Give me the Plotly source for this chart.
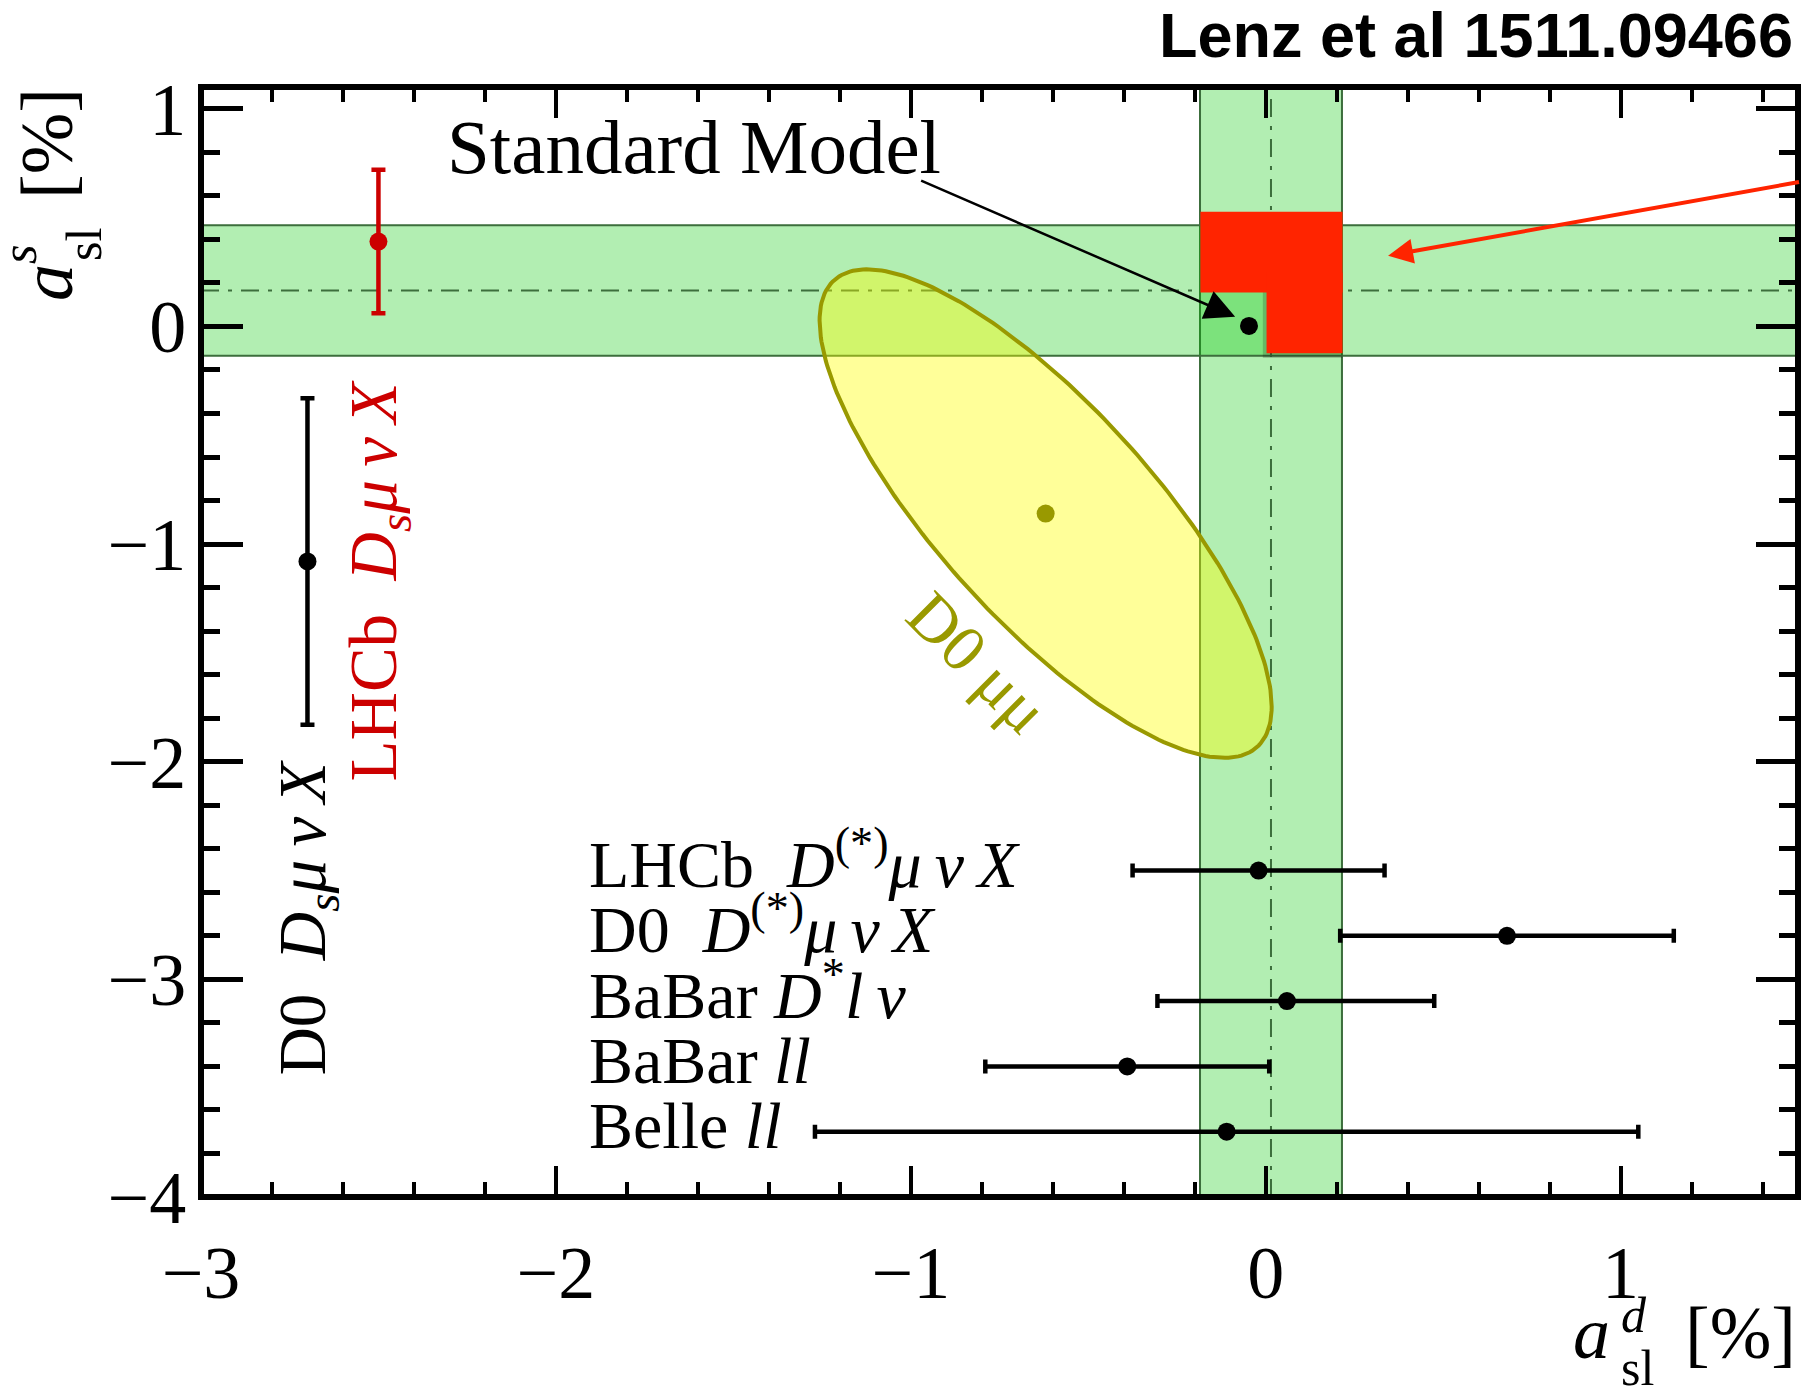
import numpy as np
import plotly.graph_objects as go

# ---------------- data (values in %) ----------------
X_RANGE = [-3.0, 1.5]
Y_RANGE = [-4.0, 1.1]

# world averages shown as bands: [central, half-width]
avg_asld = [0.015, 0.20]
avg_asls = [0.165, 0.30]

# Standard Model prediction (a_sl^d, a_sl^s)
sm_point = [-0.047, 0.002]

TS = "\u2009"  # thin space

# a_sl^d measurements (horizontal error bars)
d_labels = [
    "LHCb  <i>D</i><sup>(*)</sup><i>μ" + TS + "ν" + TS + "X</i>",
    "D0  <i>D</i><sup>(*)</sup><i>μ" + TS + "ν" + TS + "X</i>",
    "BaBar <i>D</i><sup>*</sup><i>l" + TS + "ν</i>",
    "BaBar <i>ll</i>",
    "Belle <i>ll</i>",
]
d_central = [-0.02, 0.68, 0.06, -0.39, -0.11]
d_err_hi = [0.355, 0.47, 0.415, 0.40, 1.16]
d_err_lo = [0.355, 0.47, 0.365, 0.40, 1.16]
d_row = [-2.5, -2.8, -3.1, -3.4, -3.7]

# a_sl^s measurements (vertical error bars)
s_labels = [
    "D0  <i>D</i><sub><i>s</i></sub><i>μ" + TS + "ν" + TS + "X</i>",
    "LHCb  <i>D</i><sub><i>s</i></sub><i>μ" + TS + "ν" + TS + "X</i>",
]
s_col = [-2.7, -2.5]
s_central = [-1.08, 0.39]
s_err = [0.75, 0.33]
s_label_y = [-2.714, -1.165]
s_colors = ["black", "#cc0000"]

# D0 dimuon measurement: (a_sl^d, a_sl^s), errors, correlation
mumu_central = [-0.62, -0.86]
mumu_err = [0.42, 0.74]
mumu_rho = -0.79
mumu_dchi2 = 2.30  # 68% CL contour, 2 dof

# ---------------- layout geometry ----------------
W, H = 1801, 1387
ML, MR, MT, MB = 201, 3, 87, 190
PW, PH = W - ML - MR, H - MT - MB

def px(xp):
    return (xp - ML) / PW

def py(yp):
    return (H - MB - yp) / PH

SERIF = "Liberation Serif"
SANS = "Liberation Sans"
GREEN_FILL = "rgba(0,200,0,0.30)"
GREEN_LINE = "rgb(60,110,60)"
RED = "rgb(255,36,0)"
OLIVE = "rgb(153,153,0)"

fig = go.Figure()

shapes = []
# vertical band (a_sl^d average)
shapes.append(dict(type="rect", xref="x", yref="paper",
                   x0=avg_asld[0] - avg_asld[1], x1=avg_asld[0] + avg_asld[1], y0=0, y1=1,
                   fillcolor=GREEN_FILL, line=dict(color=GREEN_LINE, width=2), layer="below"))
# horizontal band (a_sl^s average)
shapes.append(dict(type="rect", xref="paper", yref="y",
                   x0=0, x1=1, y0=avg_asls[0] - avg_asls[1], y1=avg_asls[0] + avg_asls[1],
                   fillcolor=GREEN_FILL, line=dict(color=GREEN_LINE, width=2), layer="below"))
# central dash-dot lines
shapes.append(dict(type="line", xref="x", yref="paper", x0=avg_asld[0], x1=avg_asld[0], y0=0, y1=1,
                   line=dict(color=GREEN_LINE, width=2, dash="18px,9px,4px,9px"), layer="below"))
shapes.append(dict(type="line", xref="paper", yref="y", x0=0, x1=1, y0=avg_asls[0], y1=avg_asls[0],
                   line=dict(color=GREEN_LINE, width=2, dash="18px,9px,4px,9px"), layer="below"))
# red highlighted region (L shape), with a soft shadow
shapes.append(dict(type="rect", xref="x", yref="y", x0=-0.008, x1=0.2166, y0=-0.145, y1=0.248,
                   fillcolor="rgba(0,0,0,0.18)", line=dict(width=0), layer="below"))
shapes.append(dict(type="rect", xref="x", yref="y", x0=-0.184, x1=0.2166, y0=0.156, y1=0.527,
                   fillcolor=RED, line=dict(width=0), layer="below"))
shapes.append(dict(type="rect", xref="x", yref="y", x0=0.0025, x1=0.2166, y0=-0.123, y1=0.248,
                   fillcolor=RED, line=dict(width=0), layer="below"))
# frame, centred on the plot-area edges
shapes.append(dict(type="rect", xref="paper", yref="paper", x0=0, x1=1, y0=0, y1=1,
                   fillcolor="rgba(0,0,0,0)", line=dict(color="black", width=6), layer="above"))

# D0 dimuon 68% CL ellipse
t = np.linspace(0, 2 * np.pi, 241)
k = np.sqrt(mumu_dchi2)
ex = mumu_central[0] + k * mumu_err[0] * np.cos(t)
ey = mumu_central[1] + k * mumu_err[1] * (mumu_rho * np.cos(t) + np.sqrt(1 - mumu_rho ** 2) * np.sin(t))
fig.add_trace(go.Scatter(x=ex, y=ey, mode="lines", fill="toself",
                         fillcolor="rgba(255,255,0,0.40)", line=dict(color=OLIVE, width=4),
                         hoverinfo="skip", showlegend=False))
fig.add_trace(go.Scatter(x=[mumu_central[0]], y=[mumu_central[1]], mode="markers",
                         marker=dict(color=OLIVE, size=18), showlegend=False))

# a_sl^d measurements
fig.add_trace(go.Scatter(x=d_central, y=d_row, mode="markers",
                         marker=dict(color="black", size=18),
                         error_x=dict(type="data", symmetric=False, array=d_err_hi, arrayminus=d_err_lo,
                                      color="black", thickness=4.5, width=7),
                         showlegend=False))
# a_sl^s measurements
for i in range(len(s_col)):
    fig.add_trace(go.Scatter(x=[s_col[i]], y=[s_central[i]], mode="markers",
                             marker=dict(color=s_colors[i], size=18),
                             error_y=dict(type="data", array=[s_err[i]], color=s_colors[i],
                                          thickness=4.5, width=7),
                             showlegend=False))
# SM point
fig.add_trace(go.Scatter(x=[sm_point[0]], y=[sm_point[1]], mode="markers",
                         marker=dict(color="black", size=18), showlegend=False))

ann = []
# title
ann.append(dict(text="<b>Lenz et al 1511.09466</b>", xref="paper", yref="paper",
                x=px(1795), y=py(35), xanchor="right", yanchor="middle", showarrow=False,
                font=dict(family=SANS, size=63, color="black")))
# Standard Model label + arrow
ann.append(dict(text="Standard Model", xref="x", yref="y", x=(445 - 1265.8) / 355.0,
                y=(326.6 - 147.3) / 217.6, xanchor="left", yanchor="middle", showarrow=False,
                font=dict(family=SERIF, size=77, color="black")))
ann.append(dict(text=" ", xref="x", yref="y", x=-0.086, y=0.044, ax=-316, ay=-137,
                showarrow=True, arrowhead=2, arrowwidth=2.5, arrowsize=2.4, arrowcolor="black",
                font=dict(size=2)))
# red arrow from the right
ann.append(dict(text=" ", xref="x", yref="y", x=0.345, y=0.325, ax=425, ay=-74,
                showarrow=True, arrowhead=2, arrowwidth=4, arrowsize=1.25, arrowcolor=RED,
                font=dict(size=2)))
# D0 mumu label
ann.append(dict(text="D0 μμ", xref="x", yref="y", x=-0.81, y=-1.545, textangle=45,
                xanchor="center", yanchor="middle", showarrow=False,
                font=dict(family=SERIF, size=66, color=OLIVE)))
# a_sl^d labels
for lab, yr in zip(d_labels, d_row):
    ann.append(dict(text=lab, xref="x", yref="y", x=-1.912, y=yr - 0.15,
                    xanchor="left", yanchor="bottom", showarrow=False,
                    font=dict(family=SERIF, size=66, color="black")))
# a_sl^s labels (rotated)
for lab, xc, yl, c in zip(s_labels, s_col, s_label_y, s_colors):
    ann.append(dict(text=lab, xref="x", yref="y", x=xc, y=yl, textangle=-90,
                    xanchor="center", yanchor="middle", showarrow=False,
                    font=dict(family=SERIF, size=67, color=c)))

# x-axis title  a_sl^d [%]
TF = 74
SF = 50
ann += [
    dict(text="<i>a</i>", x=px(1591), y=py(1333), font=dict(family=SERIF, size=TF)),
    dict(text="<i>d</i>", x=px(1634), y=py(1315), font=dict(family=SERIF, size=SF)),
    dict(text="sl", x=px(1637), y=py(1368), font=dict(family=SERIF, size=SF)),
    dict(text="[%]", x=px(1740), y=py(1333), font=dict(family=SERIF, size=TF)),
]
# y-axis title  a_sl^s [%]
ann += [
    dict(text="<i>a</i>", x=px(47), y=py(283), textangle=-90, font=dict(family=SERIF, size=TF)),
    dict(text="<i>s</i>", x=px(19), y=py(255), textangle=-90, font=dict(family=SERIF, size=SF)),
    dict(text="sl", x=px(84), y=py(245), textangle=-90, font=dict(family=SERIF, size=SF)),
    dict(text="[%]", x=px(47), y=py(144), textangle=-90, font=dict(family=SERIF, size=TF)),
]
for a in ann[-8:]:
    a.update(xref="paper", yref="paper", xanchor="center", yanchor="middle", showarrow=False)
    a["font"]["color"] = "black"

axis_common = dict(ticks="inside", tickcolor="black", showline=True, linewidth=6,
                   linecolor="rgba(0,0,0,0)", mirror="ticks", showgrid=False, zeroline=False,
                   tickfont=dict(family=SERIF, size=74, color="black"))

fig.update_layout(
    width=W, height=H,
    margin=dict(l=ML, r=MR, t=MT, b=MB, autoexpand=False),
    paper_bgcolor="white", plot_bgcolor="white",
    showlegend=False,
    shapes=shapes,
    annotations=ann,
    xaxis=dict(range=X_RANGE, dtick=1, tick0=0, ticklen=31, tickwidth=4,
               ticklabelstandoff=6,
               minor=dict(dtick=0.2, tick0=0, ticks="inside", ticklen=15, tickwidth=4,
                          tickcolor="black", showgrid=False),
               **axis_common),
    yaxis=dict(range=Y_RANGE, dtick=1, tick0=0, ticklen=42, tickwidth=5,
               ticklabelstandoff=-6,
               minor=dict(dtick=0.2, tick0=0, ticks="inside", ticklen=19, tickwidth=5,
                          tickcolor="black", showgrid=False),
               **axis_common),
)

fig.write_html("out.html", config={"displayModeBar": False},
               post_script="document.body.style.margin='0';document.body.style.overflow='hidden';")
